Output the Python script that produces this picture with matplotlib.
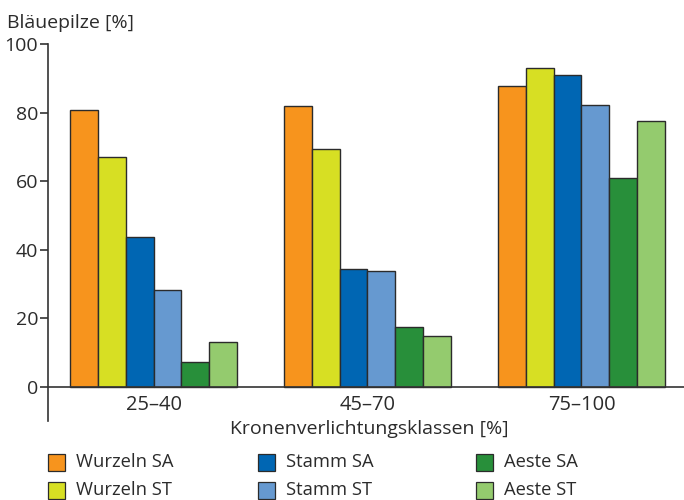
import matplotlib
matplotlib.use("Agg")
import matplotlib.pyplot as plt
from matplotlib.patches import Rectangle
import numpy as np

plt.rcParams['font.family'] = ['Open Sans', 'DejaVu Sans']

categories = ["25–40", "45–70", "75–100"]
series_names = ["Wurzeln SA", "Wurzeln ST", "Stamm SA", "Stamm ST", "Aeste SA", "Aeste ST"]
wurzeln_sa = [80.8, 82.0, 87.8]
wurzeln_st = [67.1, 69.3, 93.1]
stamm_sa = [43.8, 34.5, 91.0]
stamm_st = [28.3, 33.7, 82.1]
aeste_sa = [7.4, 17.6, 61.0]
aeste_st = [13.1, 14.9, 77.5]
values = [wurzeln_sa, wurzeln_st, stamm_sa, stamm_st, aeste_sa, aeste_st]
colors = ["#F7941D", "#D7DF23", "#0066B3", "#6699D0", "#288F3A", "#94CB6E"]
edge = "#2b2b2b"
txt = "#2b2b2b"

W, H = 684, 500
fig = plt.figure(figsize=(W / 100, H / 100), dpi=100)

left, right = 48, 684
top, bottom = 44, 421.3
ax = fig.add_axes([left / W, 1 - bottom / H, (right - left) / W, (bottom - top) / H])

x = np.arange(len(categories))
bw = 0.13
for i, (vals, c) in enumerate(zip(values, colors)):
    ax.bar(x + (i - 2.5) * bw, vals, width=bw, color=c, edgecolor=edge, linewidth=1.0, zorder=2)

ax.set_ylim(-10, 100)
ax.set_xlim(-0.493, 2.479)
ax.spines['top'].set_visible(False)
ax.spines['right'].set_visible(False)
ax.spines['bottom'].set_position(('data', 0))
for s in ['left', 'bottom']:
    ax.spines[s].set_color('#333333')
    ax.spines[s].set_linewidth(1.2)
ax.spines['left'].set_bounds(-10, 100)

ax.set_yticks([0, 20, 40, 60, 80, 100])
ax.tick_params(axis='y', direction='out', length=6, width=1.2, color='#333333',
               labelsize=14, labelcolor=txt, pad=1)
ax.set_xticks(x)
ax.set_xticklabels(categories)
ax.tick_params(axis='x', length=0, labelsize=14.5, labelcolor=txt, pad=6)

fig.text(7 / W, 1 - 23 / H, "Bläuepilze [%]", fontsize=14, color=txt,
         ha='left', va='center')
fig.text(369 / W, 1 - 429 / H, "Kronenverlichtungsklassen [%]", fontsize=14,
         color=txt, ha='center', va='center')

# legend
col_x = [48, 258, 476]
row_y = [462, 490]
for i, (name, c) in enumerate(zip(series_names, colors)):
    col = i // 2
    row = i % 2
    px = col_x[col]
    py = row_y[row]
    sz = 17
    fig.add_artist(Rectangle((px / W, 1 - (py + sz / 2) / H), sz / W, sz / H,
                             transform=fig.transFigure, facecolor=c,
                             edgecolor=edge, linewidth=0.9))
    fig.text((px + 28) / W, 1 - py / H, name, fontsize=13.2, color=txt,
             ha='left', va='center')

fig.savefig("out.png", dpi=100)
